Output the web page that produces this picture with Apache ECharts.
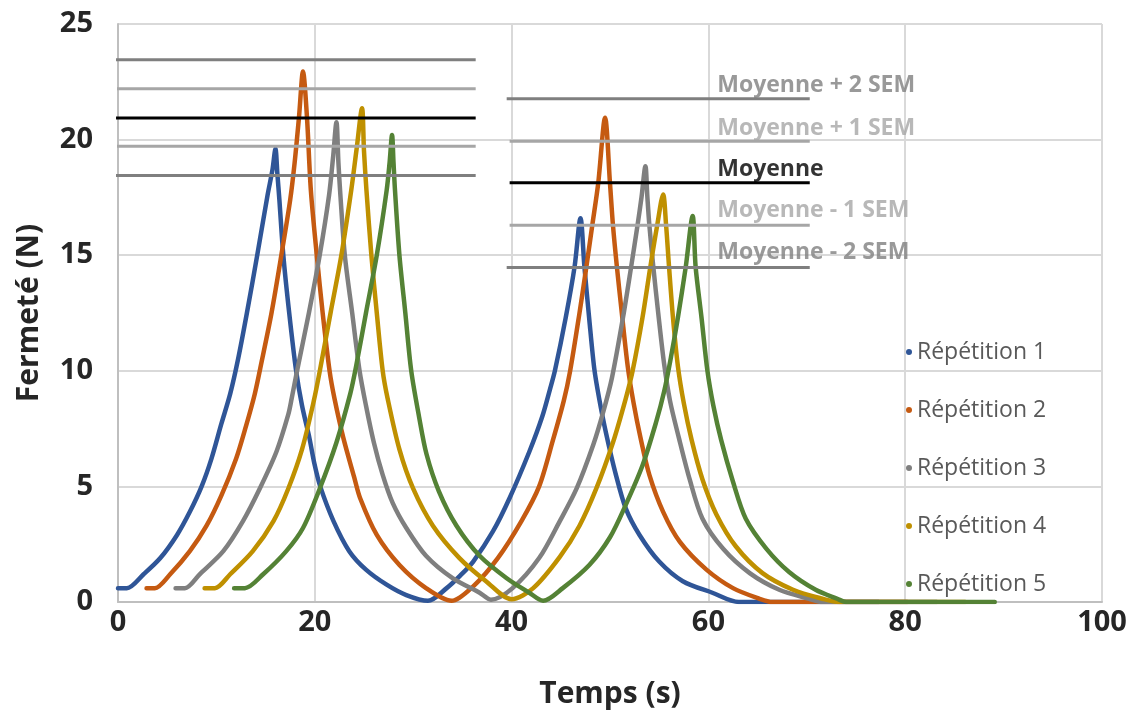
<!DOCTYPE html>
<html>
<head>
<meta charset="utf-8">
<script src="https://cdn.jsdelivr.net/npm/echarts@6/dist/echarts.min.js"></script>
<style>html,body{margin:0;padding:0;background:#fff}#c{width:1134px;height:714px}</style>
</head>
<body>
<div id="c"></div>
<script>
// ---- DATA ----
const seriesNames = ['Répétition 1', 'Répétition 2', 'Répétition 3', 'Répétition 4', 'Répétition 5'];

const rep1 = [[0,0.6],[0.9,0.6],[2.6,1.2],[4.3,1.9],[6.0,2.9],[7.3,3.9],[8.5,5.0],[9.5,6.2],[10.5,7.7],[11.4,9.0],[12.2,10.5],[13.1,12.5],[14.15,15],[15.2,17.6],[15.7,18.7],[16.0,19.6],[16.2,18.5],[16.4,17.4],[16.8,15],[17.4,12.5],[18.1,10],[18.7,8.5],[19.45,7.1],[19.95,6.0],[20.55,5.0],[21.9,3.5],[23.5,2.2],[25.2,1.4],[27.3,0.75],[29.3,0.3],[31.5,0.05],[33.4,0.6],[34.8,1.15],[36.1,1.75],[38.1,3.05],[39.8,4.5],[41.8,6.5],[43.1,8.0],[43.9,9.2],[44.4,10],[45.5,12.3],[46.4,14.5],[47.0,16.6],[47.4,14.5],[47.9,12.2],[48.4,10.1],[48.9,8.8],[49.6,7.3],[50.6,5.5],[51.6,4.05],[53.0,2.9],[55.0,1.75],[57.4,0.9],[60.4,0.4],[63.1,0],[77.3,0]];

const rep2 = [[2.9,0.6],[3.75,0.6],[5.3,1.2],[7.3,2.2],[9.0,3.3],[10.5,4.6],[12.0,6.2],[13.0,7.6],[13.9,9.0],[14.6,10.4],[15.6,12.5],[16.6,15],[17.5,17.4],[17.95,19],[18.4,21],[18.8,22.95],[19.2,21],[19.6,17.8],[20.2,15],[20.8,12.5],[21.5,10],[22.0,8.8],[22.9,7.1],[24.0,5.4],[24.6,4.5],[26.3,2.9],[28.6,1.6],[31.3,0.6],[33.9,0.05],[36.1,0.68],[38.6,1.9],[41.0,3.5],[42.8,5.0],[44.2,7.0],[45.3,8.7],[45.95,10],[46.9,12.5],[47.6,14.5],[48.2,16.3],[48.8,18.1],[49.5,20.95],[50.0,18.1],[50.3,16.3],[50.7,14.5],[51.2,12.5],[51.8,10.2],[52.4,8.6],[53.1,7.1],[54.0,5.5],[55.4,3.9],[57.1,2.6],[59.8,1.4],[62.5,0.6],[65.2,0.14],[66.5,0],[80.2,0]];

const rep3 = [[5.85,0.6],[6.8,0.6],[8.3,1.2],[10.7,2.2],[12.7,3.5],[14.4,4.9],[16.1,6.5],[17.3,8.1],[17.65,8.8],[18.2,10],[19.4,12.5],[20.5,15],[21.45,17.6],[21.85,19.2],[22.2,20.75],[22.4,19],[22.6,17.6],[23.05,15],[23.8,12.5],[24.55,10],[25.2,8.5],[26.0,6.9],[26.9,5.5],[27.9,4.3],[29.3,3.2],[31.3,2.0],[34.0,1.03],[36.75,0.4],[37.9,0.1],[40.1,0.6],[42.8,1.9],[44.9,3.5],[46.6,4.9],[48.3,6.8],[49.3,8.2],[50.2,9.7],[51.4,12.5],[52.15,14.5],[52.8,16.3],[53.2,17.5],[53.6,18.85],[53.8,17.5],[54.0,16.3],[54.4,14.5],[54.9,12.5],[55.5,10.3],[56.1,8.7],[57.0,7.1],[58.1,5.3],[59.4,3.6],[61.5,2.3],[64.2,1.25],[67.2,0.53],[70.25,0.14],[71.6,0],[83.2,0]];

const rep4 = [[8.8,0.6],[9.85,0.6],[11.4,1.2],[13.7,2.2],[15.8,3.5],[17.3,4.9],[18.7,6.6],[19.9,8.7],[20.6,10.2],[21.6,12.5],[22.7,15],[23.7,17.8],[24.25,19.6],[24.8,21.36],[25.0,19.5],[25.25,17.8],[25.75,15],[26.3,12.5],[26.9,10],[27.4,8.8],[28.6,6.6],[30.0,4.9],[32.0,3.3],[34.7,1.9],[37.4,0.9],[40.0,0.12],[42.2,0.6],[44.9,1.95],[46.9,3.3],[48.6,4.9],[50.3,6.9],[51.6,8.8],[52.3,10],[53.3,12.3],[54.1,14.5],[54.8,16.3],[55.4,17.63],[55.7,16.3],[56.0,14.5],[56.4,12.3],[56.9,10.2],[57.5,8.6],[58.3,7.0],[59.4,5.3],[60.8,3.8],[62.8,2.4],[65.5,1.25],[68.6,0.53],[71.6,0.14],[73.3,0],[86.1,0]];

const rep5 = [[11.8,0.6],[12.9,0.6],[14.75,1.2],[17.1,2.2],[18.8,3.2],[20.5,4.9],[22.2,6.9],[23.6,9.0],[24.2,10.2],[25.2,12.5],[26.3,15],[27.3,17.8],[27.6,19],[27.85,20.2],[28.0,19],[28.15,17.8],[28.6,15],[29.2,12.5],[29.8,10],[30.6,8.0],[31.35,6.4],[32.6,4.8],[34.4,3.3],[36.75,2.0],[39.5,1.03],[41.8,0.4],[43.2,0.05],[45.2,0.6],[47.9,1.6],[50.0,2.8],[51.6,4.2],[53.3,5.9],[54.7,7.8],[55.5,9.1],[56.2,10.6],[56.9,12.3],[57.7,14.5],[58.4,16.7],[58.7,14.5],[59.3,12.3],[59.9,10],[60.5,8.5],[61.3,7.0],[62.5,5.2],[63.8,3.6],[65.9,2.3],[68.2,1.3],[70.9,0.53],[73.1,0.14],[74.0,0],[89.1,0]];

// Reference lines: mean and ±1/±2 SEM for the first and second cycle
const refNames = ['Moyenne + 2 SEM', 'Moyenne + 1 SEM', 'Moyenne', 'Moyenne - 1 SEM', 'Moyenne - 2 SEM'];
const refLevels1 = [23.45, 22.2, 20.93, 19.71, 18.45];
const refLevels2 = [21.77, 19.93, 18.13, 16.3, 14.47];
const refStart1 = [-0.5, -0.1, -0.2, -0.1, -0.5];
const refEnd1 = 36.35;
const refStart2 = [39.5, 39.8, 39.8, 39.8, 39.5];
const refEnd2 = 70.3;
const refLabelX = 60.9;
const refLabelY = [22.33, 20.47, 18.7, 16.94, 15.13];

const xTicks = [0, 20, 40, 60, 80, 100];
const yTicks = [0, 5, 10, 15, 20, 25];

// ---- STYLE ----
const curveColors = ['#2f5597', '#c55a11', '#7f7f7f', '#bf9000', '#548235'];
const refColors = ['#7f7f7f', '#a6a6a6', '#000000', '#a6a6a6', '#7f7f7f'];
const FONT = '"Open Sans", "Noto Sans", sans-serif';

const curves = [rep1, rep2, rep3, rep4, rep5];
const series = [];
curves.forEach((d, i) => {
  series.push({
    name: seriesNames[i], type: 'line', data: d, showSymbol: false, symbol: 'circle',
    smooth: 0.3,
    lineStyle: { color: curveColors[i], width: 4.5, join: 'round', cap: 'round' },
    itemStyle: { color: curveColors[i] },
    z: 2 + i, animation: false
  });
});
refNames.forEach((n, i) => {
  series.push({
    name: n + ' (1)', type: 'line', clip: false, showSymbol: false, animation: false,
    data: [[refStart1[i], refLevels1[i]], [refEnd1, refLevels1[i]]],
    lineStyle: { color: refColors[i], width: 3 }, z: 10
  });
  series.push({
    name: n + ' (2)', type: 'line', clip: false, showSymbol: false, animation: false,
    data: [[refStart2[i], refLevels2[i]], [refEnd2, refLevels2[i]]],
    lineStyle: { color: refColors[i], width: 3 }, z: 10
  });
});
series.push({
  name: 'labels', type: 'scatter', symbolSize: 0, animation: false, z: 11,
  data: refNames.map((n, i) => ({
    value: [refLabelX, refLabelY[i]], name: n,
    label: { color: refColors[i] }
  })),
  label: {
    show: true, position: 'right', distance: 0, formatter: p => p.name,
    fontFamily: FONT, fontWeight: 'bold', fontSize: 23
  },
  silent: true
});

const chart = echarts.init(document.getElementById('c'), null, { renderer: 'canvas' });
chart.setOption({
  animation: false,
  backgroundColor: '#ffffff',
  grid: { left: 118, right: 32, top: 24, bottom: 110, containLabel: false },
  legend: {
    data: seriesNames, orient: 'vertical', left: 901, top: 335,
    itemWidth: 6, itemHeight: 6, icon: 'circle', itemGap: 34, itemTextGap: 11,
    textStyle: { fontFamily: FONT, fontSize: 23, color: '#595959', lineHeight: 24 }
  },
  xAxis: {
    type: 'value', min: xTicks[0], max: xTicks[xTicks.length - 1], interval: 20,
    name: 'Temps (s)', nameLocation: 'middle', nameGap: 77,
    nameTextStyle: { fontFamily: FONT, fontWeight: 'bold', fontSize: 30, color: '#262626' },
    axisLine: { show: true, lineStyle: { color: '#bfbfbf', width: 2 } },
    axisTick: { show: false },
    axisLabel: { fontFamily: FONT, fontWeight: 'bold', fontSize: 29, color: '#262626', margin: 6 },
    splitLine: { show: true, lineStyle: { color: '#d9d9d9', width: 2 } }
  },
  yAxis: {
    type: 'value', min: yTicks[0], max: yTicks[yTicks.length - 1], interval: 5,
    name: 'Fermeté (N)', nameLocation: 'middle', nameGap: 74,
    nameTextStyle: { fontFamily: FONT, fontWeight: 'bold', fontSize: 30, color: '#262626' },
    axisLine: { show: true, lineStyle: { color: '#bfbfbf', width: 2 } },
    axisTick: { show: false },
    axisLabel: { fontFamily: FONT, fontWeight: 'bold', fontSize: 29, color: '#262626', margin: 25 },
    splitLine: { show: true, lineStyle: { color: '#d9d9d9', width: 2 } }
  },
  series: series
});
</script>
</body>
</html>
